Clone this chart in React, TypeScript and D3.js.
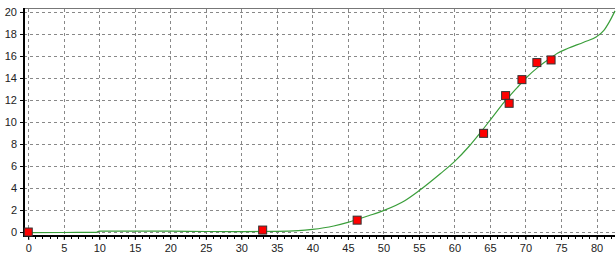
import React, { useRef, useEffect } from 'react';
import * as d3 from 'd3';

// measured points
const pointX = [0, 33.0, 46.3, 64.1, 67.2, 67.7, 69.5, 71.6, 73.6];
const pointY = [0, 0.18, 1.08, 8.97, 12.4, 11.7, 13.85, 15.4, 15.64];

// fitted curve
const curveX = [0, 5, 9.5, 10, 15, 20, 25, 30, 35, 38, 40, 43, 45, 48, 50, 53, 55, 58, 60, 62, 63.6, 65.3, 67, 68.8, 70, 72, 73.5, 74.5, 76, 78.2, 80, 81, 81.8, 82.6];
const curveY = [-0.06, -0.04, -0.03, 0.08, 0.09, 0.08, 0.05, 0.04, 0.06, 0.12, 0.24, 0.55, 0.88, 1.5, 1.95, 2.85, 3.75, 5.3, 6.4, 7.75, 9.0, 10.4, 11.8, 13.1, 13.95, 15.1, 15.8, 16.25, 16.7, 17.25, 17.75, 18.3, 19.1, 20.1];

const xTicks = d3.range(0, 81, 5);
const yTicks = d3.range(0, 21, 2);

const App = () => {
  const ref = useRef<SVGSVGElement>(null);

  const W = 616,
    H = 255;
  const left = 24,
    right = 615,
    top = 9,
    bottom = 236;

  useEffect(() => {
    const svg = d3.select(ref.current);
    svg.selectAll('*').remove();

    const x = d3.scaleLinear().domain([-0.6, 82.6]).range([left, right]);
    const y = d3.scaleLinear().domain([-0.36, 20.27]).range([bottom, top]);

    // grid
    const grid = svg.append('g').attr('stroke', '#888').attr('stroke-dasharray', '3,3').attr('stroke-width', 1);
    xTicks.forEach((t) => {
      grid.append('line')
        .attr('x1', Math.round(x(t)) + 0.5).attr('x2', Math.round(x(t)) + 0.5)
        .attr('y1', top).attr('y2', bottom);
    });
    yTicks.forEach((t) => {
      grid.append('line')
        .attr('x1', left).attr('x2', right)
        .attr('y1', Math.round(y(t)) + 0.5).attr('y2', Math.round(y(t)) + 0.5);
    });

    // top frame
    svg.append('line').attr('x1', left).attr('x2', right)
      .attr('y1', top - 0.5).attr('y2', top - 0.5)
      .attr('stroke', '#777').attr('stroke-width', 1);

    // curve
    const pts = curveX.map((v, i) => [v, curveY[i]] as [number, number]);
    const line = d3.line<[number, number]>()
      .x((d) => x(d[0]))
      .y((d) => y(d[1]))
      .curve(d3.curveMonotoneX);
    svg.append('path').attr('d', line(pts))
      .attr('fill', 'none').attr('stroke', '#3a9e3a').attr('stroke-width', 1.2);

    // axes
    const xAxis = d3.axisBottom(x).tickValues(xTicks).tickSize(4).tickSizeOuter(0).tickPadding(4);
    const gx = svg.append('g').attr('transform', `translate(0,${bottom})`).call(xAxis);
    gx.select('.domain').remove();
    const yAxis = d3.axisLeft(y).tickValues(yTicks).tickSize(4).tickSizeOuter(0).tickPadding(3);
    const gy = svg.append('g').attr('transform', `translate(${left},0)`).call(yAxis);
    gy.select('.domain').remove();

    // minor x ticks
    svg.append('g').selectAll('line')
      .data(d3.range(0, 83, 1))
      .enter().append('line')
      .attr('x1', (d) => Math.round(x(d)) + 0.5).attr('x2', (d) => Math.round(x(d)) + 0.5)
      .attr('y1', bottom).attr('y2', bottom + 3)
      .attr('stroke', '#000');

    [gx, gy].forEach((g) => {
      g.selectAll('text')
        .attr('font-family', 'Arial, "Liberation Sans", sans-serif')
        .attr('font-size', 11).attr('fill', '#222');
      g.selectAll('line').attr('stroke', '#000');
    });

    svg.append('line').attr('x1', left - 1).attr('x2', right)
      .attr('y1', bottom).attr('y2', bottom)
      .attr('stroke', '#000').attr('stroke-width', 2);
    svg.append('line').attr('x1', left).attr('x2', left)
      .attr('y1', top - 1).attr('y2', bottom + 1)
      .attr('stroke', '#000').attr('stroke-width', 2);

    // points
    svg.append('g').selectAll('rect')
      .data(pointX)
      .enter().append('rect')
      .attr('x', (d) => x(d) - 4)
      .attr('y', (d, i) => y(pointY[i]) - 4)
      .attr('width', 8).attr('height', 8)
      .attr('fill', '#ff0000').attr('stroke', '#333').attr('stroke-width', 1);
  }, []);

  return (
    <svg ref={ref} width={W} height={H} style={{ position: 'absolute', left: 0, top: 0, background: '#fff' }} />
  );
};

export default App;
